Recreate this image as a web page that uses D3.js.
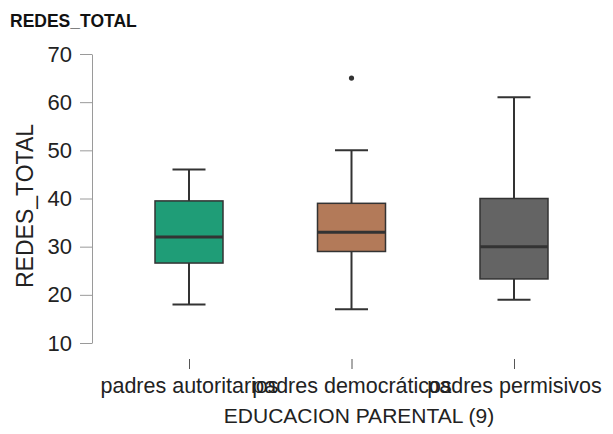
<!DOCTYPE html>
<html><head><meta charset="utf-8">
<script src="https://cdn.jsdelivr.net/npm/d3@7"></script>
<style>body{margin:0;background:#fff;}svg{display:block;font-family:"Liberation Sans",Arial,sans-serif;}</style>
</head><body>
<svg id="c" width="613" height="434"></svg>
<script>
const categories = ["padres autoritarios", "padres democráticos", "padres permisivos"];
const q1 = [26.6, 29, 23.3];
const median = [32, 33, 30];
const q3 = [39.5, 39, 40];
const whiskerLow = [18, 17, 19];
const whiskerHigh = [46, 50, 61];
const outliers = [[], [65], []];
const colors = ["#1f9d77", "#b37a59", "#646464"];
const yTicks = [10, 20, 30, 40, 50, 60, 70];

const svg = d3.select("#c");
const y = d3.scaleLinear().domain([10, 70]).range([343, 54]);
const x = d3.scalePoint().domain(categories).range([189, 514]);

// title
svg.append("text").attr("x", 10).attr("y", 27).attr("font-size", 17.5).attr("font-weight", "bold").attr("fill", "#111").text("REDES_TOTAL");

// y axis
const ya = svg.append("g").attr("transform", "translate(92,0)").call(d3.axisLeft(y).tickValues(yTicks).tickSize(12).tickPadding(8).tickSizeOuter(0));
ya.select(".domain").attr("stroke", "#9a9a9a");
ya.selectAll(".tick line").attr("stroke", "#9a9a9a");
ya.selectAll(".tick text").attr("font-size", 22).attr("fill", "#222").attr("font-family", "Liberation Sans, Arial, sans-serif");

// x axis
const xa = svg.append("g").attr("transform", "translate(0,359)").call(d3.axisBottom(x).tickSize(10).tickPadding(9).tickSizeOuter(0));
xa.select(".domain").remove();
xa.selectAll(".tick line").attr("stroke", "#555");
xa.selectAll(".tick text").attr("font-size", 21.5).attr("fill", "#222").attr("font-family", "Liberation Sans, Arial, sans-serif");

// axis titles
svg.append("text").attr("x", 359).attr("y", 423).attr("text-anchor", "middle").attr("font-size", 21).attr("fill", "#222").text("EDUCACION PARENTAL (9)");
svg.append("text").attr("transform", "translate(33,206) rotate(-90)").attr("text-anchor", "middle").attr("font-size", 23).attr("fill", "#222").text("REDES_TOTAL");

const bw = 68, cap = 33;
categories.forEach((c, i) => {
  const cx = x(c);
  const g = svg.append("g");
  g.append("line").attr("x1", cx).attr("x2", cx).attr("y1", y(whiskerHigh[i])).attr("y2", y(q3[i])).attr("stroke", "#333").attr("stroke-width", 2);
  g.append("line").attr("x1", cx).attr("x2", cx).attr("y1", y(q1[i])).attr("y2", y(whiskerLow[i])).attr("stroke", "#333").attr("stroke-width", 2);
  g.append("line").attr("x1", cx - cap / 2).attr("x2", cx + cap / 2).attr("y1", y(whiskerHigh[i])).attr("y2", y(whiskerHigh[i])).attr("stroke", "#333").attr("stroke-width", 2);
  g.append("line").attr("x1", cx - cap / 2).attr("x2", cx + cap / 2).attr("y1", y(whiskerLow[i])).attr("y2", y(whiskerLow[i])).attr("stroke", "#333").attr("stroke-width", 2);
  g.append("rect").attr("x", cx - bw / 2).attr("width", bw).attr("y", y(q3[i])).attr("height", y(q1[i]) - y(q3[i])).attr("fill", colors[i]).attr("stroke", "#333").attr("stroke-width", 1.5);
  g.append("line").attr("x1", cx - bw / 2).attr("x2", cx + bw / 2).attr("y1", y(median[i])).attr("y2", y(median[i])).attr("stroke", "#333").attr("stroke-width", 3);
  outliers[i].forEach(v => g.append("circle").attr("cx", cx).attr("cy", y(v)).attr("r", 2.6).attr("fill", "#333"));
});
</script>
</body></html>
